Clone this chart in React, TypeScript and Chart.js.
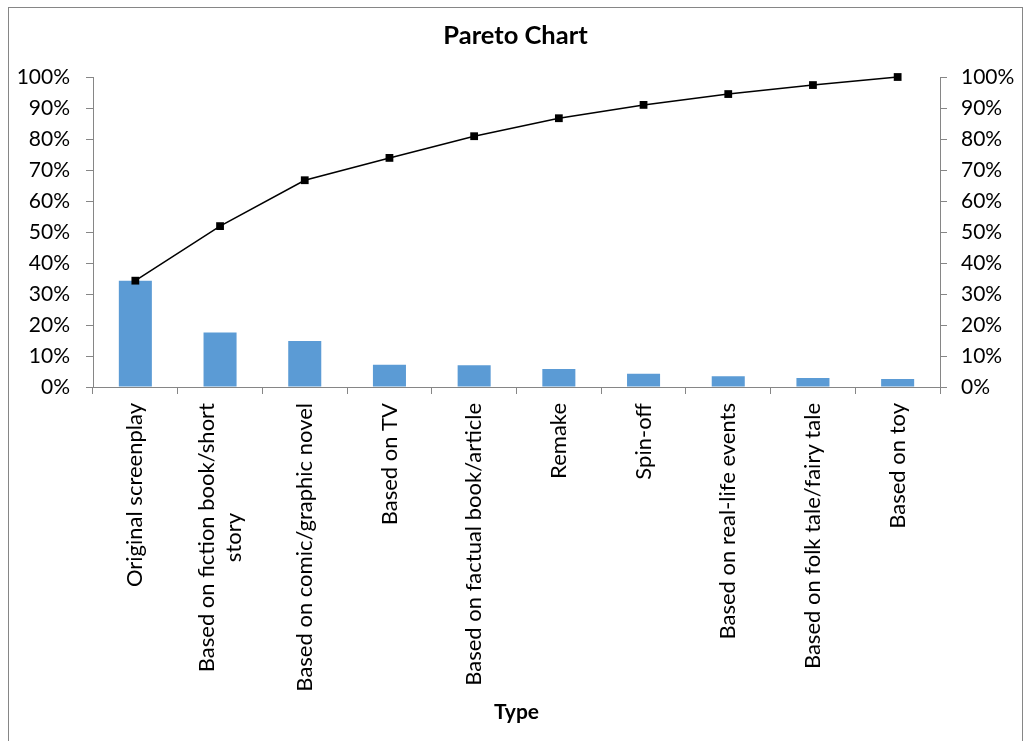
import React, { useEffect, useRef } from "react";
import { Chart, registerables } from "chart.js";

Chart.register(...registerables);

const categories = [
  "Original screenplay",
  "Based on fiction book/short story",
  "Based on comic/graphic novel",
  "Based on TV",
  "Based on factual book/article",
  "Remake",
  "Spin-off",
  "Based on real-life events",
  "Based on folk tale/fairy tale",
  "Based on toy",
];
const categoryLines = [
  ["Original screenplay"],
  ["Based on fiction book/short", "story"],
  ["Based on comic/graphic novel"],
  ["Based on TV"],
  ["Based on factual book/article"],
  ["Remake"],
  ["Spin-off"],
  ["Based on real-life events"],
  ["Based on folk tale/fairy tale"],
  ["Based on toy"],
];
const sharePct = [34.3, 17.6, 14.8, 7.2, 7.0, 5.8, 4.3, 3.5, 2.9, 2.6];
const cumulativePct = [34.3, 51.9, 66.7, 73.9, 80.9, 86.7, 91.0, 94.5, 97.4, 100];
const yTicks = [0, 10, 20, 30, 40, 50, 60, 70, 80, 90, 100];

const chartTitle = "Pareto Chart";
const xAxisTitle = "Type";

const FONT = "Lato, 'Open Sans', sans-serif";
const AXIS_GRAY = "#868686";

export default function App() {
  const ref = useRef<HTMLCanvasElement | null>(null);

  useEffect(() => {
    if (!ref.current) return;

    const framePlugin = {
      id: "frame",
      beforeDraw(chart: any) {
        const ctx = chart.ctx;
        ctx.save();
        ctx.fillStyle = "#ffffff";
        ctx.fillRect(0, 0, chart.width, chart.height);
        ctx.strokeStyle = AXIS_GRAY;
        ctx.lineWidth = 1;
        ctx.strokeRect(8.5, 7.5, 1014, 760);
        ctx.restore();
      },
      afterDraw(chart: any) {
        const ctx = chart.ctx;
        const area = chart.chartArea;
        ctx.save();
        ctx.fillStyle = "#000";
        ctx.font = `bold 25.5px ${FONT}`;
        ctx.textAlign = "center";
        ctx.textBaseline = "middle";
        ctx.fillText(chartTitle, (area.left + area.right) / 2 - 1, 36);

        // x tick labels, rotated, multi-line centred like the reference
        const xs = chart.scales.x;
        ctx.font = `22px ${FONT}`;
        const lh = 27;
        const anchorY = xs.top + 16;
        categoryLines.forEach((lines, i) => {
          const x = xs.getPixelForValue(i);
          const maxW = Math.max(...lines.map((l) => ctx.measureText(l).width));
          ctx.save();
          ctx.translate(x, anchorY);
          ctx.rotate(-Math.PI / 2);
          ctx.textAlign = "center";
          ctx.textBaseline = "middle";
          lines.forEach((l, j) => {
            ctx.fillText(l, -maxW / 2, (j - (lines.length - 1) / 2) * lh);
          });
          ctx.restore();
        });
        ctx.restore();
      },
    };

    const chart = new Chart(ref.current, {
      type: "bar",
      data: {
        labels: categories,
        datasets: [
          {
            type: "line",
            label: "Cumulative",
            data: cumulativePct,
            yAxisID: "y2",
            borderColor: "#000000",
            backgroundColor: "#000000",
            borderWidth: 1.5,
            pointStyle: "rect",
            pointRadius: 5.5,
            pointBorderWidth: 0,
            tension: 0,
            clip: false,
            order: 0,
          } as any,
          {
            type: "bar",
            label: "Share",
            data: sharePct,
            yAxisID: "y",
            backgroundColor: "#5B9BD5",
            borderWidth: 0,
            barPercentage: 0.39,
            categoryPercentage: 1,
            order: 1,
          },
        ],
      },
      options: {
        animation: false,
        responsive: false,
        layout: { padding: { top: 77, left: 0, right: 0, bottom: 0 } },
        plugins: {
          legend: { display: false },
          tooltip: { enabled: false },
          title: { display: false },
        },
        scales: {
          x: {
            offset: true,
            grid: {
              offset: true,
              drawOnChartArea: false,
              drawTicks: true,
              tickLength: 7,
              color: AXIS_GRAY,
            },
            border: { color: AXIS_GRAY, width: 1 },
            ticks: { display: false },
            title: {
              display: true,
              text: xAxisTitle,
              color: "#000",
              font: { family: FONT, size: 21, weight: "bold" },
              padding: { top: 0, bottom: 16 },
            },
            afterFit(scale: any) {
              scale.height = 741 - 387;
            },
          },
          y: {
            position: "left",
            min: 0,
            max: 100,
            afterBuildTicks(scale: any) {
              scale.ticks = yTicks.map((v) => ({ value: v }));
            },
            grid: {
              drawOnChartArea: false,
              drawTicks: true,
              tickLength: 7,
              color: AXIS_GRAY,
            },
            border: { color: AXIS_GRAY, width: 1 },
            ticks: {
              color: "#000",
              padding: 16,
              font: { family: FONT, size: 21 },
              callback: (v: any) => `${v}%`,
            },
            afterFit(scale: any) {
              scale.width = 93;
            },
          },
          y2: {
            position: "right",
            min: 0,
            max: 100,
            afterBuildTicks(scale: any) {
              scale.ticks = yTicks.map((v) => ({ value: v }));
            },
            grid: {
              drawOnChartArea: false,
              drawTicks: true,
              tickLength: 7,
              color: AXIS_GRAY,
            },
            border: { color: AXIS_GRAY, width: 1 },
            ticks: {
              color: "#000",
              padding: 14,
              font: { family: FONT, size: 21 },
              callback: (v: any) => `${v}%`,
            },
            afterFit(scale: any) {
              scale.width = 1024 - 940;
            },
          },
        },
      },
      plugins: [framePlugin],
    });

    return () => chart.destroy();
  }, []);

  return (
    <div style={{ position: "fixed", left: 0, top: 0, width: 1024, height: 741 }}>
      <canvas ref={ref} width={1024} height={741} />
    </div>
  );
}
